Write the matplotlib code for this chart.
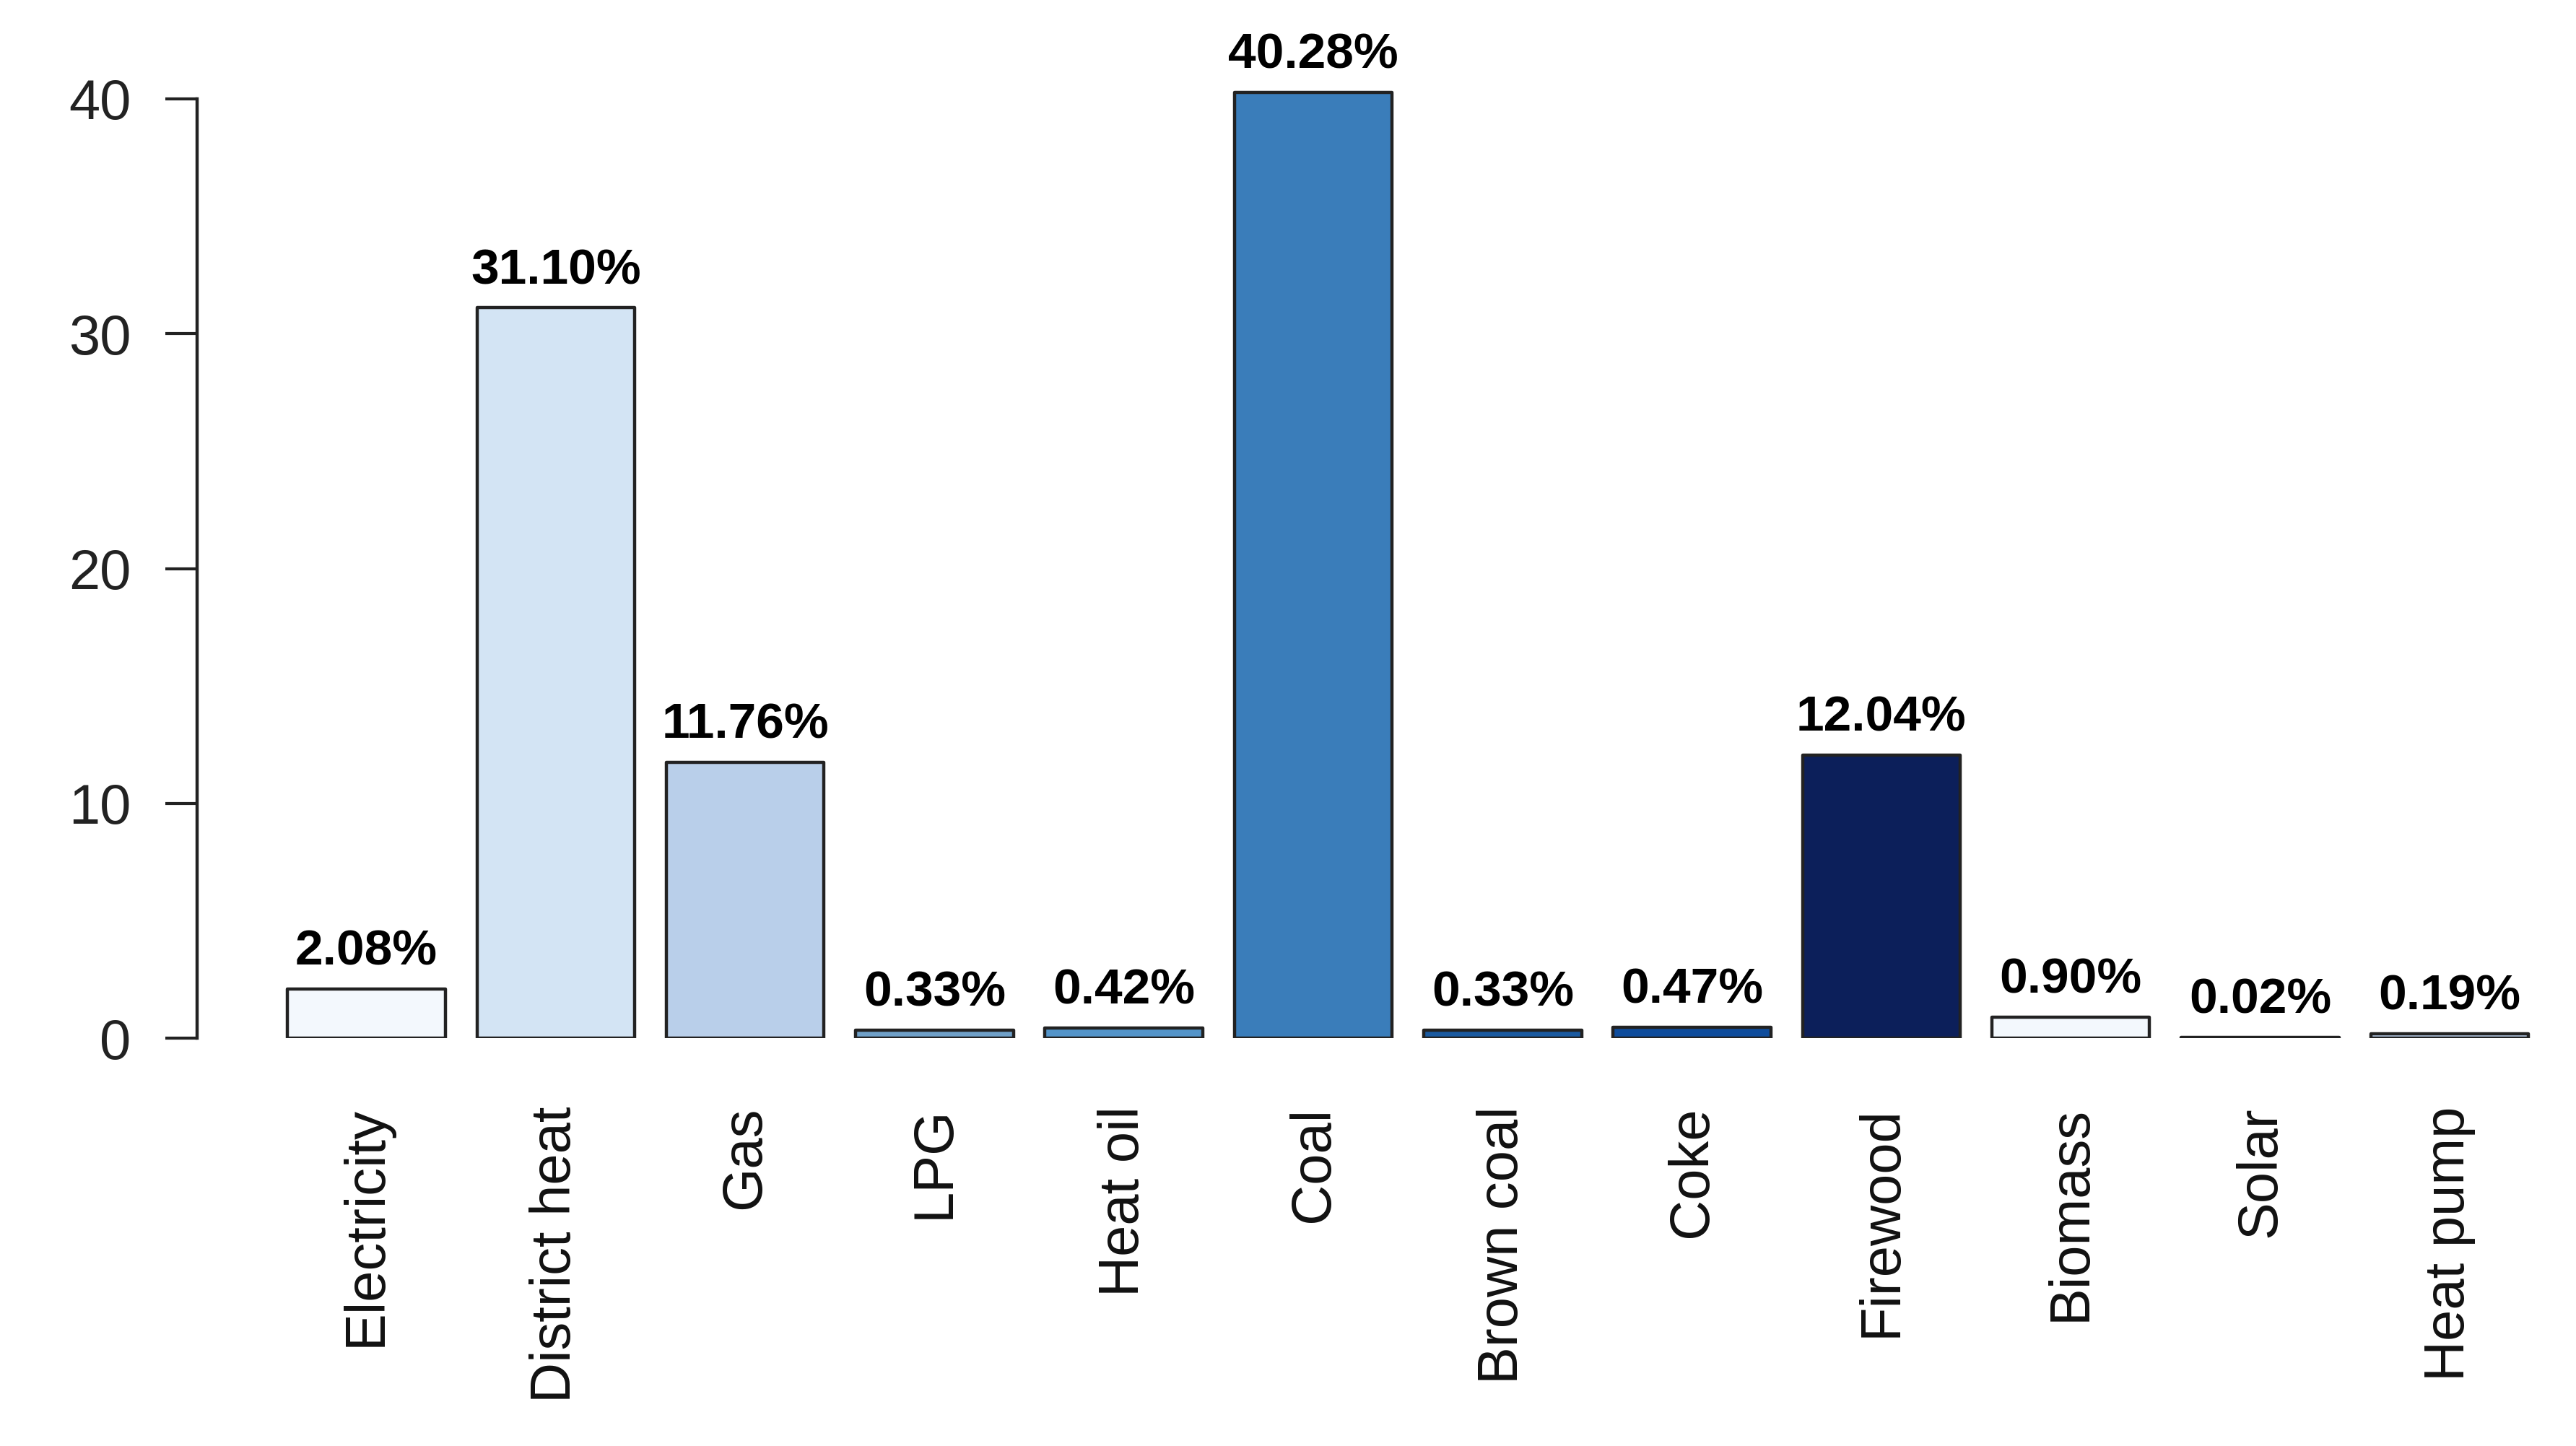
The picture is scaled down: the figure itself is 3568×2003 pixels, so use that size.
import matplotlib.pyplot as plt
import numpy as np

plt.rcParams['font.family'] = ['Liberation Sans', 'DejaVu Sans']

### Data
categories = ['Electricity', 'District heat', 'Gas', 'LPG', 'Heat oil', 'Coal',
              'Brown coal', 'Coke', 'Firewood', 'Biomass', 'Solar', 'Heat pump']
shares = [2.08, 31.10, 11.76, 0.33, 0.42, 40.28, 0.33, 0.47, 12.04, 0.90, 0.02, 0.19]
bar_colors = ['#F3F8FD', '#D3E4F4', '#B9CFEA', '#6FA0C8', '#5495CA', '#3A7DBA',
              '#1A5AA0', '#0E4C9C', '#0C1F5A', '#F3F8FD', '#D3E4F4', '#B9CFEA']
y_ticks = [0, 10, 20, 30, 40]

### Figure in pixel terms (3568 x 2003 at 200 dpi)
W, H, dpi = 3568, 2003, 200
fig = plt.figure(figsize=(W / dpi, H / dpi), dpi=dpi)

# axes placed so that y=0 sits at 1438 px and y=40 at 137 px from the top
y0_px, y40_px = 1438, 137
px_per_unit = (y0_px - y40_px) / 40
y_top = 44
ax_left, ax_right = 273, 3524
ax_bottom = H - y0_px
ax_height = y_top * px_per_unit
ax = fig.add_axes([ax_left / W, ax_bottom / H, (ax_right - ax_left) / W, ax_height / H])

x = np.arange(len(categories))
bars = ax.bar(x, shares, width=0.833, color=bar_colors, edgecolor='#222222',
              linewidth=1.6, joinstyle='round')

for xi, v in zip(x, shares):
    ax.annotate(f'{v:.2f}%', (xi, v), xytext=(0, 7), textcoords='offset points',
                ha='center', va='bottom', fontsize=25, fontweight='bold',
                annotation_clip=False)

ax.set_xlim(-0.894, 11.5)
ax.set_ylim(0, y_top)

for side in ['top', 'right', 'bottom']:
    ax.spines[side].set_visible(False)
ax.spines['left'].set_bounds(0, 40)
ax.spines['left'].set_linewidth(1.6)
ax.spines['left'].set_color('#222222')

ax.set_yticks(y_ticks)
ax.tick_params(axis='y', length=16, width=1.5, color='#222222', pad=17,
               labelsize=28, labelcolor='#222222')
ax.set_xticks(x)
ax.set_xticklabels(categories, rotation=90, fontsize=28, color='#111111')
ax.tick_params(axis='x', length=0, pad=34)

fig.savefig('out.png', dpi=dpi)
